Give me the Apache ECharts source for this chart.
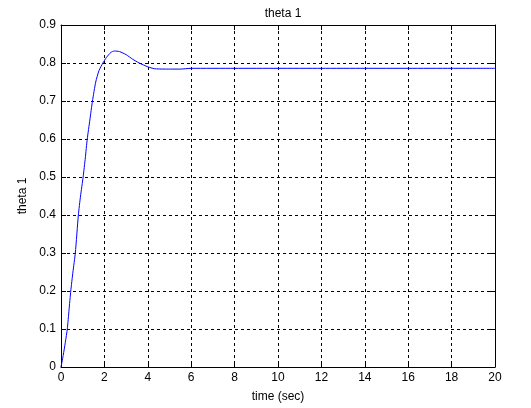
<!DOCTYPE html>
<html>
<head>
<meta charset="utf-8">
<script src="https://cdn.jsdelivr.net/npm/echarts@6/dist/echarts.min.js"></script>
<style>html,body{margin:0;padding:0;background:#fff}#c{width:531px;height:408px}</style>
</head>
<body>
<div id="c"></div>
<script>
var timeSec = [0, 0.1, 0.2, 0.29, 0.37, 0.45, 0.55, 0.66, 0.8, 0.9, 1.02, 1.12, 1.21, 1.33, 1.45, 1.6, 1.75, 1.93, 2.1, 2.3, 2.46, 2.7, 3.0, 3.3, 3.6, 4.0, 4.3, 4.8, 5.5, 6.0, 8, 10, 12, 14, 16, 18, 20];
var theta1 = [0, 0.03, 0.065, 0.1, 0.15, 0.2, 0.25, 0.3, 0.4, 0.45, 0.5, 0.55, 0.6, 0.65, 0.7, 0.75, 0.78, 0.8, 0.815, 0.828, 0.8316, 0.83, 0.822, 0.81, 0.8, 0.79, 0.785, 0.784, 0.784, 0.786, 0.786, 0.786, 0.786, 0.786, 0.786, 0.786, 0.786];
var xTicks = [0, 2, 4, 6, 8, 10, 12, 14, 16, 18, 20];
var yTicks = [0, 0.1, 0.2, 0.3, 0.4, 0.5, 0.6, 0.7, 0.8, 0.9];

var pts = timeSec.map(function (t, i) { return [t, theta1[i]]; });
var font = 'Liberation Sans, Arial, sans-serif';
var chart = echarts.init(document.getElementById('c'), null, {renderer: 'canvas'});
var gridLine = {show: true, lineStyle: {color: '#000', type: [3, 3], width: 1}};
chart.setOption({
  animation: false,
  title: {text: 'theta 1', left: 278, top: 3, textAlign: 'center',
    textStyle: {fontFamily: font, fontSize: 12, fontWeight: 'normal', color: '#000'}},
  grid: {left: 61, top: 25, right: 36, bottom: 41, containLabel: false},
  xAxis: [{
    type: 'value', min: xTicks[0], max: xTicks[xTicks.length - 1], interval: 2,
    name: 'time (sec)', nameLocation: 'middle', nameGap: 24,
    nameTextStyle: {fontFamily: font, fontSize: 12, color: '#000'},
    axisLine: {show: true, onZero: false, lineStyle: {color: '#000', width: 1}},
    axisTick: {show: true, inside: true, length: 5, lineStyle: {color: '#000'}},
    axisLabel: {fontFamily: font, fontSize: 12, color: '#000', margin: 5},
    splitLine: gridLine
  }, {
    type: 'value', position: 'top', min: 0, max: 20, interval: 2,
    axisLine: {show: true, onZero: false, lineStyle: {color: '#000', width: 1}},
    axisTick: {show: true, inside: true, length: 5, lineStyle: {color: '#000'}},
    axisLabel: {show: false}, splitLine: {show: false}
  }],
  yAxis: [{
    type: 'value', min: yTicks[0], max: yTicks[yTicks.length - 1], interval: 0.1,
    name: 'theta 1', nameLocation: 'middle', nameGap: 31, nameRotate: 90,
    nameTextStyle: {fontFamily: font, fontSize: 12, color: '#000'},
    axisLine: {show: true, onZero: false, lineStyle: {color: '#000', width: 1}},
    axisTick: {show: true, inside: true, length: 5, lineStyle: {color: '#000'}},
    axisLabel: {fontFamily: font, fontSize: 12, color: '#000', margin: 5,
      formatter: function (v) { return String(Math.round(v * 10) / 10); }},
    splitLine: gridLine
  }, {
    type: 'value', position: 'right', min: 0, max: 0.9, interval: 0.1,
    axisLine: {show: true, onZero: false, lineStyle: {color: '#000', width: 1}},
    axisTick: {show: true, inside: true, length: 5, lineStyle: {color: '#000'}},
    axisLabel: {show: false}, splitLine: {show: false}
  }],
  series: [{
    type: 'line', data: pts, smooth: 0.2, showSymbol: false,
    lineStyle: {color: '#0000ff', width: 1}
  }]
});
</script>
</body>
</html>
